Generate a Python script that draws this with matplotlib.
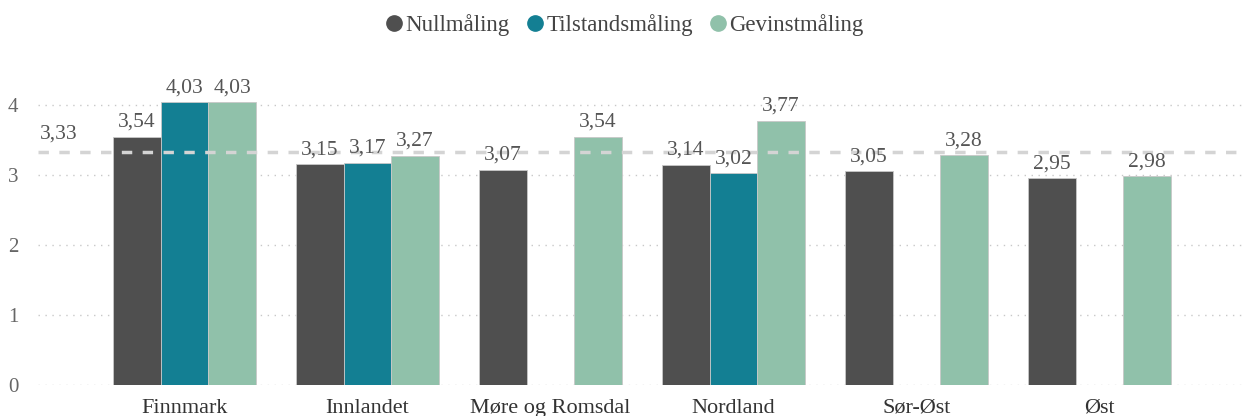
import numpy as np
import matplotlib; matplotlib.use("Agg")
import matplotlib.pyplot as plt
from matplotlib.lines import Line2D

plt.rcParams["font.family"] = ["Liberation Serif", "DejaVu Serif"]

regions = ["Finnmark", "Innlandet", "Møre og Romsdal", "Nordland", "Sør-Øst", "Øst"]
series = ["Nullmåling", "Tilstandsmåling", "Gevinstmåling"]
nullmaling = [3.54, 3.15, 3.07, 3.14, 3.05, 2.95]
tilstand = [4.03, 3.17, np.nan, 3.02, np.nan, np.nan]
gevinst = [4.03, 3.27, 3.54, 3.77, 3.28, 2.98]
average = 3.33
colors = ["#4f4f4f", "#137f93", "#90c1aa"]

fig = plt.figure(figsize=(12.46, 4.16), dpi=100)
ax = fig.add_axes([38/1246, 31/416, 1 - 38/1246, 305/416])

x = np.arange(len(regions))
w = 0.26
txt = "#555555"
for k, (vals, c) in enumerate(zip([nullmaling, tilstand, gevinst], colors)):
    xs = x + (k - 1) * w
    for xi, v in zip(xs, vals):
        if np.isnan(v):
            continue
        ax.bar(xi, v, w, color=c, edgecolor="#c8c8c8", linewidth=0.6, zorder=2)
        ax.text(xi, v + 0.07, f"{v:.2f}".replace(".", ","), ha="center", va="bottom",
                fontsize=15.5, color=txt, zorder=3)

ax.axhline(average, color="#d4d4d4", lw=2.5, ls=(0, (3, 3)), zorder=2.5)
ax.text(-0.79, average + 0.12, f"{average:.2f}".replace(".", ","), ha="left", va="bottom",
        fontsize=15.5, color=txt)

ax.set_xlim(-0.8, 5.8)
ax.set_ylim(0, 4.35)
ax.set_yticks([0, 1, 2, 3, 4])
ax.yaxis.grid(True, color="#c8c8c8", ls=(0, (1, 4)), lw=1)
ax.set_axisbelow(True)
ax.set_xticks(x)
ax.set_xticklabels(regions, fontsize=16, color="#333333")
ax.tick_params(axis="y", labelsize=15, labelcolor="#666666", length=0, pad=14)
ax.tick_params(axis="x", length=0, pad=10)
for s in ax.spines.values():
    s.set_visible(False)

handles = [Line2D([], [], marker="o", ls="", color=c, markersize=11) for c in colors]
fig.legend(handles, series, loc="center", bbox_to_anchor=(0.5, 1 - 25/416), ncol=3,
           frameon=False, fontsize=16.5, handletextpad=0.0, columnspacing=0.6,
           labelcolor="#444444", handlelength=1.0)

fig.savefig("out.png", dpi=100)
